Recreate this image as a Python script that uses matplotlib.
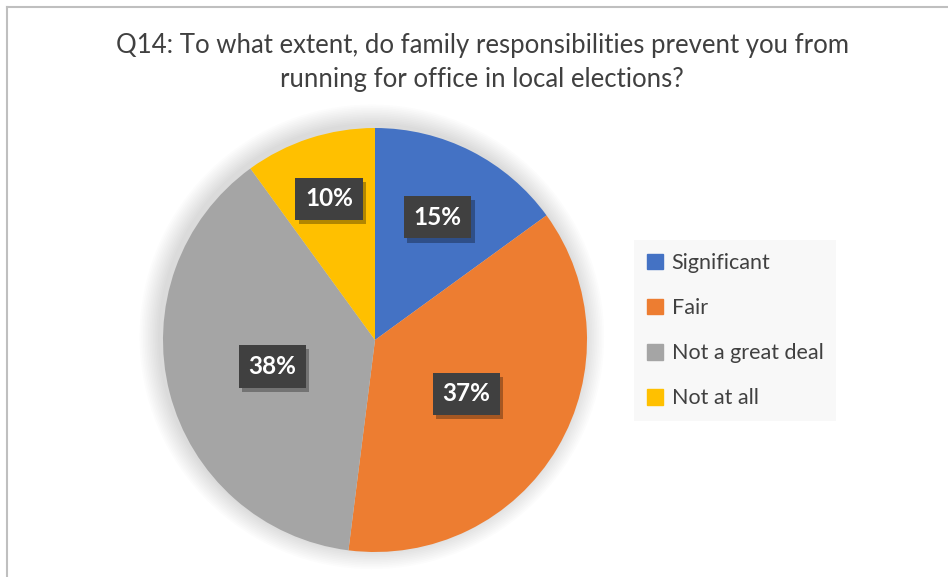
import matplotlib.pyplot as plt
import matplotlib.patches as mpatches
import matplotlib.patheffects as pe
import numpy as np

plt.rcParams['font.family'] = ['Lato', 'DejaVu Sans']

# data
categories = ['Significant', 'Fair', 'Not a great deal', 'Not at all']
shares = [15, 37, 38, 10]
colors = ['#4472C4', '#ED7D31', '#A5A5A5', '#FFC000']
label_dist = [0.65, 0.5, 0.5, 0.70]

W, H = 948, 577
fig = plt.figure(figsize=(W / 100, H / 100), dpi=100)
fig.patch.set_facecolor('white')

# chart border (left + top visible)
fig.add_artist(plt.Line2D([6.5 / W, 6.5 / W], [0, 1 - 7 / H], color='#BFBFBF', lw=1.5))
fig.add_artist(plt.Line2D([6.5 / W, 1], [1 - 7 / H, 1 - 7 / H], color='#BFBFBF', lw=1.5))

fig.text(482 / W, 1 - 45 / H, 'Q14: To what extent, do family responsibilities prevent you from',
         ha='center', va='center', fontsize=18.5, color='#404040')
fig.text(482 / W, 1 - 80 / H, 'running for office in local elections?',
         ha='center', va='center', fontsize=18.5, color='#404040')

# pie axes: centre (375, 340), radius 212 px
cx, cy, r = 375, 340, 212
ax = fig.add_axes([(cx - r) / W, 1 - (cy + r) / H, 2 * r / W, 2 * r / H])
ax.axis('off')

# soft glow around the pie
for k in range(12):
    ax.add_patch(mpatches.Circle((-0.015, 0.015), 1.0 + 0.008 * (k + 1), color='black',
                                 alpha=0.012, lw=0, zorder=0, clip_on=False))

wedges, texts = ax.pie(shares, colors=colors, startangle=90, counterclock=False,
                       radius=1.0, wedgeprops=dict(linewidth=0), frame=False)
ax.set_xlim(-1, 1)
ax.set_ylim(-1, 1)
ax.set_aspect('equal')

for w, val, d in zip(wedges, shares, label_dist):
    ang = np.deg2rad((w.theta1 + w.theta2) / 2)
    x, y = d * np.cos(ang), d * np.sin(ang)
    t = ax.text(x, y, f'{val}%', ha='center', va='center', fontsize=17.5,
                fontweight='bold', color='white',
                bbox=dict(boxstyle='square,pad=0.4', fc='#404040', ec='none'))
    t.get_bbox_patch().set_path_effects([
        pe.SimplePatchShadow(offset=(2.5, -3), shadow_rgbFace='black', alpha=0.3),
        pe.Normal()])

# legend
handles = [mpatches.Patch(color=c, label=l) for c, l in zip(colors, categories)]
leg = fig.legend(handles=handles, loc='upper left',
                 bbox_to_anchor=(634 / W, 1 - 240 / H), frameon=True, borderaxespad=0,
                 fontsize=15.5, handlelength=0.75, handleheight=0.75, handletextpad=0.4,
                 labelspacing=1.17, borderpad=0.6, fancybox=False, labelcolor='#404040')
leg.get_frame().set_facecolor('#F7F7F7')
leg.get_frame().set_edgecolor('none')

fig.savefig('out.png', dpi=100)
